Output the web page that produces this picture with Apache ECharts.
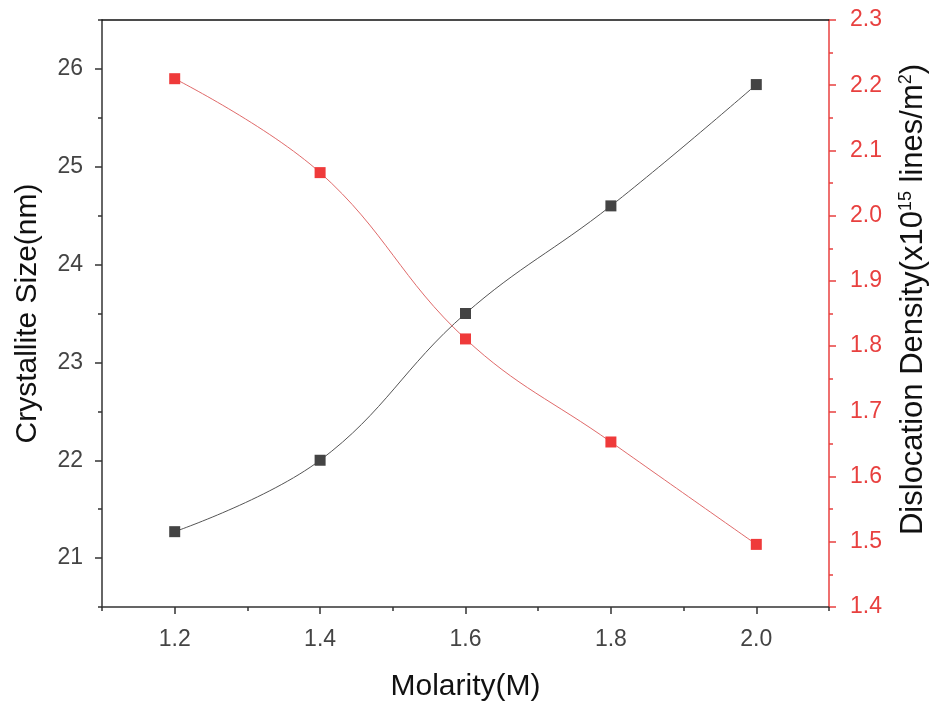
<!DOCTYPE html>
<html>
<head>
<meta charset="utf-8">
<title>Crystallite Size and Dislocation Density vs Molarity</title>
<script src="https://cdn.jsdelivr.net/npm/echarts@6/dist/echarts.min.js"></script>
<style>
  html, body { margin: 0; padding: 0; background: #fff; }
  #chart { width: 931px; height: 702px; }
</style>
</head>
<body>
<div id="chart"></div>
<script>
// Measured values
const molarity = [1.2, 1.4, 1.6, 1.8, 2.0];
const crystalliteSize = [21.27, 22.0, 23.5, 24.6, 25.84];
const dislocationDensity = [2.21, 2.066, 1.811, 1.653, 1.496];

// Tick positions
const xTickLabels = [1.2, 1.4, 1.6, 1.8, 2.0];
const xMinorTicks = [1.1, 1.3, 1.5, 1.7, 1.9, 2.1];
const leftTickLabels = [21, 22, 23, 24, 25, 26];
const leftMinorTicks = [20.5, 21.5, 22.5, 23.5, 24.5, 25.5, 26.5];
const rightTickLabels = [1.4, 1.5, 1.6, 1.7, 1.8, 1.9, 2.0, 2.1, 2.2, 2.3];
const rightMinorTicks = [1.45, 1.55, 1.65, 1.75, 1.85, 1.95, 2.05, 2.15, 2.25];

const FONT = 'Liberation Sans, Arial, sans-serif';
const DARK = '#333333';
const RED = '#e8403f';

const chart = echarts.init(document.getElementById('chart'), null, { renderer: 'canvas' });

const plain = { show: false };

chart.setOption({
  backgroundColor: '#ffffff',
  animation: false,
  grid: { left: 102, right: 102, top: 20, bottom: 95, containLabel: false, outerBoundsMode: 'none' },
  xAxis: [
    {
      type: 'value', position: 'bottom', min: 1.1, max: 2.1,
      name: 'Molarity(M)', nameLocation: 'middle', nameGap: 65,
      nameTextStyle: { fontFamily: FONT, fontSize: 30, color: '#111' },
      axisLine: { show: true, onZero: false, lineStyle: { color: DARK, width: 1.5 } },
      axisTick: { show: true, customValues: xTickLabels, length: 7, lineStyle: { color: DARK, width: 1.5 } },
      axisLabel: { show: true, customValues: xTickLabels, margin: 21, fontFamily: FONT, fontSize: 23, color: '#444',
        formatter: v => v.toFixed(1) },
      splitLine: plain
    },
    {
      type: 'value', position: 'bottom', min: 1.1, max: 2.1,
      axisLine: { show: false, onZero: false },
      axisTick: { show: true, customValues: xMinorTicks, length: 4, lineStyle: { color: DARK, width: 1.5 } },
      axisLabel: plain, splitLine: plain
    },
    {
      type: 'value', position: 'top', min: 1.1, max: 2.1,
      axisLine: { show: true, onZero: false, lineStyle: { color: '#111', width: 1.5 } },
      axisTick: plain, axisLabel: plain, splitLine: plain
    }
  ],
  yAxis: [
    {
      type: 'value', position: 'left', min: 20.5, max: 26.5,
      name: 'Crystallite Size(nm)', nameLocation: 'middle', nameGap: 59, nameRotate: 90,
      nameTextStyle: { fontFamily: FONT, fontSize: 30, color: '#111' },
      axisLine: { show: true, onZero: false, lineStyle: { color: DARK, width: 1.5 } },
      axisTick: { show: true, customValues: leftTickLabels, length: 7, lineStyle: { color: DARK, width: 1.5 } },
      axisLabel: { show: true, customValues: leftTickLabels, margin: 19, fontFamily: FONT, fontSize: 23, color: '#444' },
      splitLine: plain
    },
    {
      type: 'value', position: 'right', min: 1.4, max: 2.3,
      name: 'Dislocation Density(x10{sup|15} lines/m{sup|2})',
      nameLocation: 'middle', nameGap: 68, nameRotate: 90,
      nameTextStyle: {
        fontFamily: FONT, fontSize: 31, color: '#111', lineHeight: 32, padding: [0, 0, 0, 28],
        rich: {
          sup: { fontFamily: FONT, fontSize: 18, color: '#111', verticalAlign: 'top', lineHeight: 32, padding: [0, 0, 12, 0] }
        }
      },
      axisLine: { show: true, onZero: false, lineStyle: { color: RED, width: 1.5 } },
      axisTick: { show: true, customValues: rightTickLabels, length: 7, lineStyle: { color: RED, width: 1.5 } },
      axisLabel: { show: true, customValues: rightTickLabels, margin: 21, fontFamily: FONT, fontSize: 23, color: RED,
        formatter: v => v.toFixed(1) },
      splitLine: plain
    },
    {
      type: 'value', position: 'left', min: 20.5, max: 26.5,
      axisLine: { show: false, onZero: false },
      axisTick: { show: true, customValues: leftMinorTicks, length: 4, lineStyle: { color: DARK, width: 1.5 } },
      axisLabel: plain, splitLine: plain
    },
    {
      type: 'value', position: 'right', min: 1.4, max: 2.3,
      axisLine: { show: false, onZero: false },
      axisTick: { show: true, customValues: rightMinorTicks, length: 4, lineStyle: { color: RED, width: 1.5 } },
      axisLabel: plain, splitLine: plain
    }
  ],
  series: [
    {
      name: 'Crystallite Size', type: 'line', xAxisIndex: 0, yAxisIndex: 0,
      smooth: 0.4,
      data: molarity.map((m, i) => [m, crystalliteSize[i]]),
      symbol: 'rect', symbolSize: 11,
      itemStyle: { color: '#444444' },
      lineStyle: { color: '#555555', width: 1 }
    },
    {
      name: 'Dislocation Density', type: 'line', xAxisIndex: 0, yAxisIndex: 1,
      smooth: 0.4,
      data: molarity.map((m, i) => [m, dislocationDensity[i]]),
      symbol: 'rect', symbolSize: 11,
      itemStyle: { color: '#ef3a3a' },
      lineStyle: { color: '#e06a6a', width: 1 }
    }
  ]
});
</script>
</body>
</html>
